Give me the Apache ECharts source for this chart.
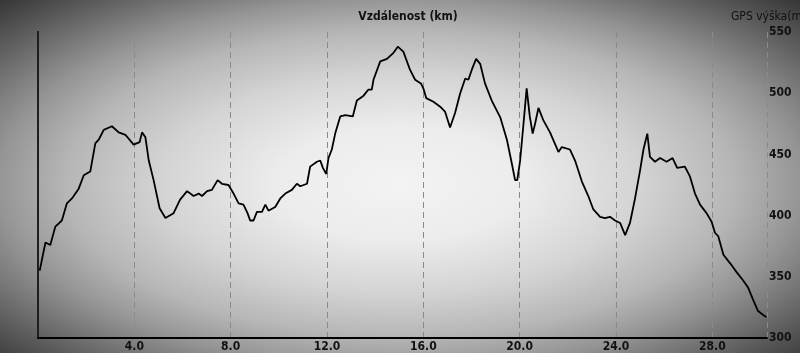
<!DOCTYPE html>
<html>
<head>
<meta charset="utf-8">
<script src="https://cdn.jsdelivr.net/npm/echarts@6/dist/echarts.min.js"></script>
<style>
html,body{margin:0;padding:0;}
body{width:800px;height:353px;overflow:hidden;
background:radial-gradient(ellipse farthest-corner at 50% 52%, #f3f3f3 0%, #ececec 22%, #d4d4d4 42%, #b6b6b6 59%, #959595 71%, #5c5c5c 88%, #363636 100%);}
#c{width:800px;height:353px;}
</style>
</head>
<body>
<div id="c"></div>
<script>
var distanceKm = [0.07,0.31,0.51,0.72,0.99,1.2,1.41,1.69,1.9,2.17,2.38,2.52,2.73,3.07,3.35,3.63,3.76,3.97,4.22,4.32,4.46,4.6,4.8,5.05,5.29,5.63,5.9,6.19,6.46,6.67,6.81,7.02,7.22,7.46,7.64,7.91,8.12,8.33,8.53,8.7,8.81,8.95,9.09,9.3,9.44,9.57,9.85,10.06,10.27,10.54,10.75,10.89,11.17,11.3,11.58,11.72,11.83,11.97,12.06,12.2,12.34,12.55,12.76,13.07,13.24,13.52,13.72,13.86,13.93,14.21,14.49,14.76,14.94,15.17,15.45,15.66,15.9,16.0,16.12,16.42,16.7,16.9,17.11,17.32,17.53,17.74,17.87,18.01,18.19,18.36,18.56,18.84,19.2,19.47,19.67,19.81,19.9,20.02,20.15,20.29,20.34,20.42,20.54,20.64,20.78,20.98,21.26,21.61,21.75,22.09,22.3,22.58,22.85,23.06,23.34,23.54,23.75,23.96,24.17,24.38,24.58,24.79,25.0,25.14,25.3,25.41,25.62,25.83,26.1,26.35,26.54,26.86,27.07,27.28,27.49,27.76,27.97,28.11,28.25,28.46,28.74,29.0,29.28,29.49,29.7,29.9,30.1,30.25];
var elevationM = [355,378,376,391,396,410,414,422,433,436,459,462,470,473,468,466,463,458,460,468,464,445,429,406,398,402,413,420,416,418,416,420,421,429,426,425,418,410,409,402,396,396,403,403,409,404,407,414,418,421,426,424,426,440,444,445,439,434,447,454,467,481,482,481,494,498,503,503,511,526,528,533,538,534,519,511,508,504,496,493,489,485,472,484,500,512,511,519,528,524,508,494,480,462,443,429,429,445,473,504,505,481,467,475,488,478,468,452,456,454,445,428,416,405,399,398,399,396,394,384,394,414,437,454,467,448,444,447,444,447,439,440,432,418,409,402,395,386,383,368,361,354,347,341,331,322,319,317];
var xTickLabels = ['4.0','8.0','12.0','16.0','20.0','24.0','28.0'];
var yTickLabels = ['300','350','400','450','500','550'];

var font = '"Liberation Sans Narrow","DejaVu Sans Condensed","Liberation Sans",sans-serif';
var chart = echarts.init(document.getElementById('c'), null, {renderer:'canvas'});
var pts = distanceKm.map(function(d,i){return [d, elevationM[i]];});
chart.setOption({
  backgroundColor: 'transparent',
  animation: false,
  title: [
    {text:'Vzdálenost (km)', left:403, top:6, textAlign:'center',
     textStyle:{fontFamily:font, fontSize:12, fontWeight:'bold', color:'#111'}},
    {text:'GPS výška(m)', left:726, top:6,
     textStyle:{fontFamily:'"DejaVu Sans Condensed","Liberation Sans",sans-serif', fontSize:12, fontWeight:'normal', color:'#111'}}
  ],
  grid: {left:38, right:33, top:32, bottom:15, containLabel:false},
  xAxis: {
    type:'value', min:0, max:30.27, interval:4,
    axisLine:{show:true, onZero:false, lineStyle:{color:'#000', width:2}},
    axisTick:{show:false},
    axisLabel:{margin:3, fontFamily:font, fontSize:12, fontWeight:'bold', color:'#111',
      formatter:function(v){ var s=v.toFixed(1); return xTickLabels.indexOf(s)>=0 ? s : ''; }},
    splitLine:{show:true, lineStyle:{color:'#8a8a8a', type:[6,4], width:1}}
  },
  yAxis: [
    {type:'value', position:'right', min:300, max:550, interval:50,
     axisLine:{show:true, lineStyle:{color:'#000', width:2}},
     axisTick:{show:false},
     axisLabel:{margin:2, fontFamily:font, fontSize:12, fontWeight:'bold', color:'#111',
       formatter:function(v){ var s=String(v); return yTickLabels.indexOf(s)>=0 ? s : ''; }},
     splitLine:{show:false}},
    {type:'value', position:'left', min:300, max:550, interval:50,
     axisLine:{show:true, lineStyle:{color:'#2a2a2a', width:1.5}},
     axisTick:{show:false}, axisLabel:{show:false}, splitLine:{show:false}}
  ],
  series: [{
    type:'line', data:pts, showSymbol:false, symbol:'none', smooth:false,
    lineStyle:{color:'#000', width:1.8}, yAxisIndex:0
  }]
});
</script>
</body>
</html>
